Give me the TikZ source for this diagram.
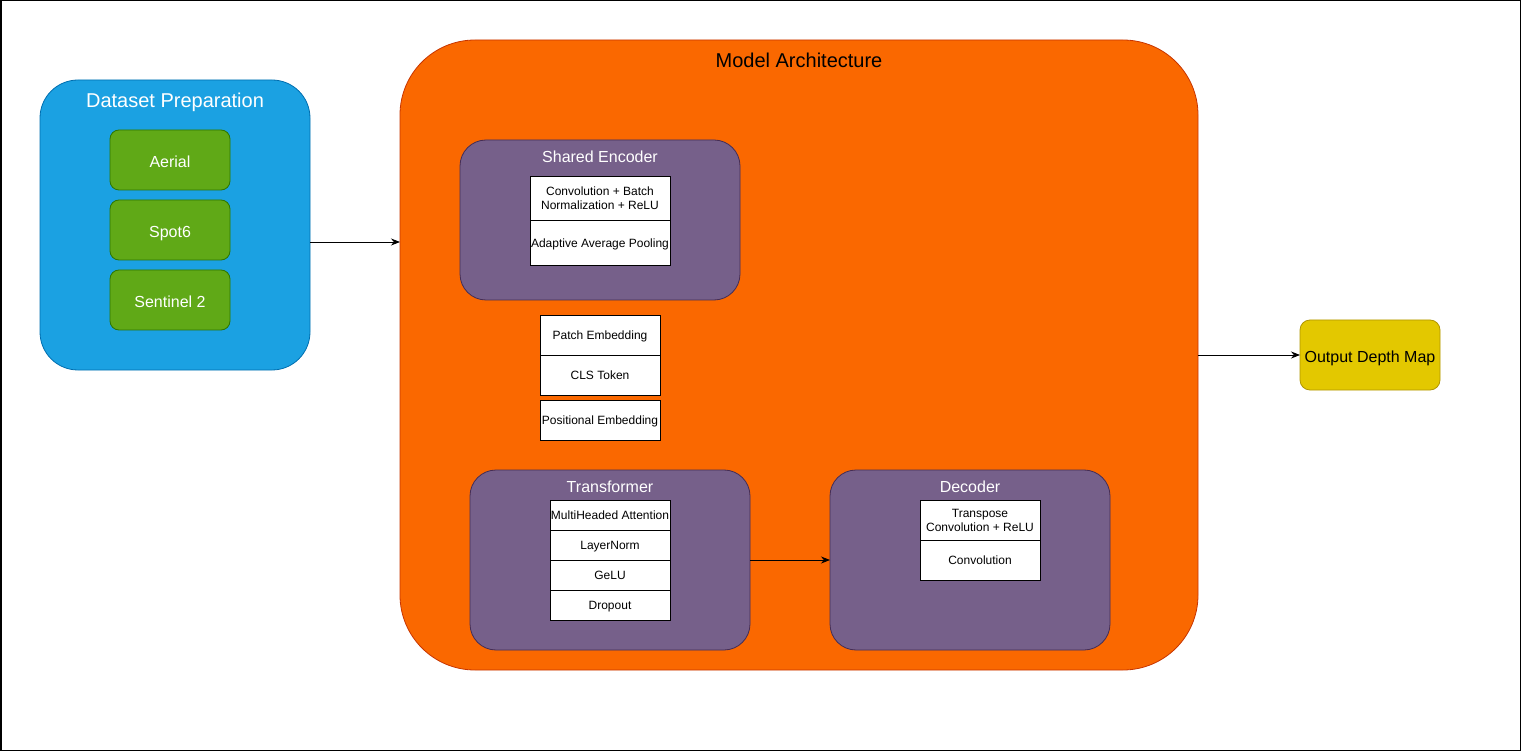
\documentclass[tikz,border=0pt]{standalone}
\usepackage{fontspec}
\setmainfont{Liberation Sans}
\usetikzlibrary{arrows.meta,positioning}
\definecolor{dsfill}{HTML}{1BA1E2}
\definecolor{dsline}{HTML}{006EAF}
\definecolor{grfill}{HTML}{60A917}
\definecolor{grline}{HTML}{2D7600}
\definecolor{mafill}{HTML}{FA6800}
\definecolor{maline}{HTML}{C73500}
\definecolor{pufill}{HTML}{76608A}
\definecolor{puline}{HTML}{432D57}
\definecolor{yefill}{HTML}{E3C800}
\definecolor{yeline}{HTML}{B09500}
\tikzset{
  nudgeL/.style={text height=14.5pt, text depth=0pt},
  nudgeS/.style={text height=9.8pt, text depth=0pt},
  box/.style={draw, inner sep=0pt, outer sep=0pt, line width=0.8pt, align=center},
  greenbox/.style={box, nudgeL, fill=grfill, draw=grline, rounded corners=9pt, text=white,
     minimum width=120pt, minimum height=60pt, font=\fontsize{16}{19}\selectfont},
  purplebox/.style={box, fill=pufill, draw=puline, rounded corners=26pt,
     minimum width=280pt},
  whitebox/.style={box, fill=white, draw=black, minimum width=120pt,
     font=\fontsize{12}{14}\selectfont},
  title/.style={inner sep=0pt, text height=11.5pt, text depth=0pt,
     font=\fontsize{16}{19}\selectfont, text=white},
  bigtitle/.style={inner sep=0pt, text height=14.4pt, text depth=0pt,
     font=\fontsize{20}{24}\selectfont},
  conn/.style={draw=black, line width=0.8pt, -{Stealth[length=9pt,width=7pt]}}
}
\begin{document}
\begin{tikzpicture}[x=1pt,y=-1pt]
\useasboundingbox (0,0) rectangle (1521,751);
\draw[line width=1.5pt] (0.75,0.75) rectangle (1520.25,750.25);

% Dataset preparation
\node[box, fill=dsfill, draw=dsline, rounded corners=38pt,
  minimum width=270pt, minimum height=290pt] (ds) at (175,225) {};
\node[bigtitle, text=white] (dst) at (175,100) {Dataset Preparation};
\node[greenbox] (aer) at (170,160) {Aerial};
\node[greenbox] (spot) at (170,230) {Spot6};
\node[greenbox] (sen) at (170,300) {Sentinel 2};

% Model architecture
\node[box, fill=mafill, draw=maline, rounded corners=75pt,
  minimum width=798pt, minimum height=630pt] (ma) at (799,355) {};
\node[bigtitle, text=black] (mat) at (799,60) {Model Architecture};

% Shared encoder
\node[purplebox, minimum height=160pt] (se) at (600,220) {};
\node[title] (set) at (600,157) {Shared Encoder};
\node[whitebox, minimum width=140pt, minimum height=45pt] (conv) at (600,198.5) {Convolution + Batch\\Normalization + ReLU};
\node[whitebox, nudgeS, minimum width=140pt, minimum height=45pt] (aap) at (600,242.5) {Adaptive Average Pooling};

% Embeddings
\node[whitebox, nudgeS, minimum height=40pt] (pe) at (600,335) {Patch Embedding};
\node[whitebox, nudgeS, minimum height=40pt] (cls) at (600,375) {CLS Token};
\node[whitebox, nudgeS, minimum height=40pt] (pos) at (600,420) {Positional Embedding};

% Transformer
\node[purplebox, minimum height=180pt] (tr) at (610,560) {};
\node[title] (trt) at (610,487) {Transformer};
\node[whitebox, nudgeS, minimum height=30pt] (mha) at (610,515) {MultiHeaded Attention};
\node[whitebox, nudgeS, minimum height=30pt] (ln) at (610,545) {LayerNorm};
\node[whitebox, nudgeS, minimum height=30pt] (gelu) at (610,575) {GeLU};
\node[whitebox, nudgeS, minimum height=30pt] (drop) at (610,605) {Dropout};

% Decoder
\node[purplebox, minimum height=180pt] (dec) at (970,560) {};
\node[title] (dect) at (970,487) {Decoder};
\node[whitebox, minimum height=40pt] (tconv) at (980,520) {Transpose\\Convolution + ReLU};
\node[whitebox, nudgeS, minimum height=40pt] (dconv) at (980,560) {Convolution};

% Output
\node[box, nudgeL, fill=yefill, draw=yeline, rounded corners=10pt, minimum width=140pt,
  minimum height=70pt, font=\fontsize{16}{19}\selectfont] (out) at (1370,355) {Output Depth Map};

% Connectors
\draw[conn] ([yshift=-17pt]ds.east) -- ([yshift=-17pt]ds.east -| ma.west);
\draw[conn] (ma.east) -- (out.west);
\draw[conn] (tr.east) -- (dec.west);
\end{tikzpicture}
\end{document}
